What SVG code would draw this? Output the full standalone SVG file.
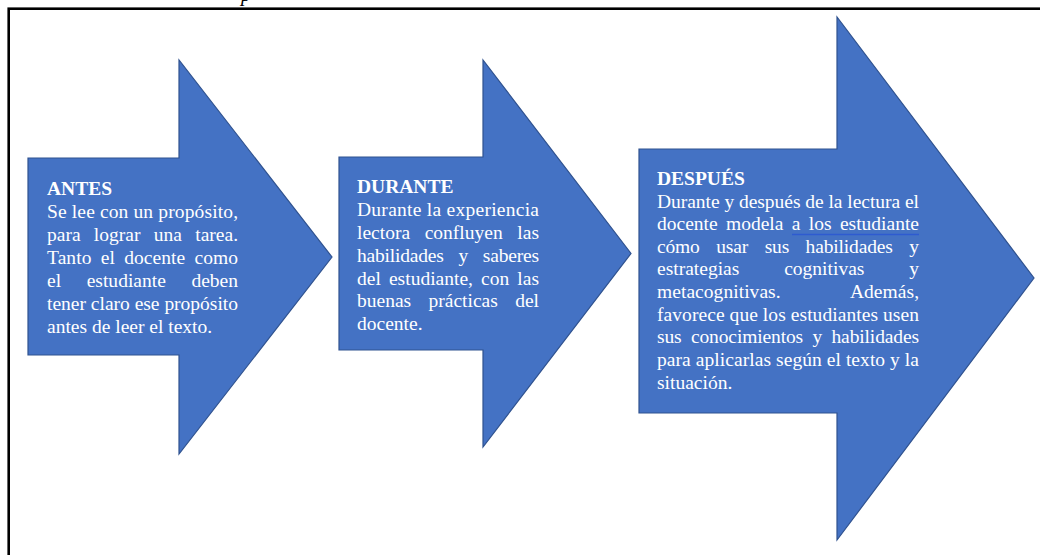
<svg xmlns="http://www.w3.org/2000/svg" width="1040" height="555" viewBox="0 0 1040 555">
<style>
.arrow{fill:#4472C4;stroke:#2F528F;stroke-width:1.2}
.t{font-family:"Liberation Serif","Times New Roman",serif;font-size:19.5px;fill:#FFFFFF}
.h{font-weight:bold}
</style>
<rect width="1040" height="555" fill="#FFFFFF"/>
<text x="241" y="1" style="font-family:'Liberation Serif',serif;font-size:20px;font-style:italic;fill:#000">p</text>
<rect x="8.7" y="8.7" width="1100" height="600" fill="none" stroke="#000" stroke-width="2.6"/>
<g id="connectors"></g>
<g id="antes">
<polygon class="arrow" points="28,158 179,158 179,60 332,257 179,454 179,355 28,355"/>
<text class="t h" x="47" y="195">ANTES</text>
<text class="t" x="47" y="218" textLength="191" lengthAdjust="spacing">Se lee con un propósito,</text>
<text class="t" x="47" y="241" word-spacing="8.4" textLength="191" lengthAdjust="spacing">para lograr una tarea.</text>
<text class="t" x="47" y="264" word-spacing="4.3" textLength="191" lengthAdjust="spacing">Tanto el docente como</text>
<text class="t" x="47" y="287" word-spacing="20.7" textLength="191" lengthAdjust="spacing">el estudiante deben</text>
<text class="t" x="47" y="310" textLength="191" lengthAdjust="spacing">tener claro ese propósito</text>
<text class="t" x="47" y="333">antes de leer el texto.</text>
</g>
<g id="durante">
<polygon class="arrow" points="339,157 483,157 483,60 631,253.5 483,447 483,350 339,350"/>
<text class="t h" x="357" y="193">DURANTE</text>
<text class="t" x="357" y="216" textLength="182" lengthAdjust="spacing">Durante la experiencia</text>
<text class="t" x="357" y="239" word-spacing="9.8" textLength="182" lengthAdjust="spacing">lectora confluyen las</text>
<text class="t" x="357" y="262" word-spacing="10.1" textLength="182" lengthAdjust="spacing">habilidades y saberes</text>
<text class="t" x="357" y="285" word-spacing="3.2" textLength="182" lengthAdjust="spacing">del estudiante, con las</text>
<text class="t" x="357" y="307" word-spacing="12.5" textLength="182" lengthAdjust="spacing">buenas prácticas del</text>
<text class="t" x="357" y="330">docente.</text>
</g>
<g id="despues">
<polygon class="arrow" points="639,149 837,149 837,17 1034,278 837,540 837,413 639,413"/>
<text class="t h" x="657" y="185">DESPUÉS</text>
<text class="t" x="657" y="208" textLength="262" lengthAdjust="spacing">Durante y después de la lectura el</text>
<text class="t" x="657" y="230" word-spacing="3.5" textLength="262" lengthAdjust="spacing">docente modela a los estudiante</text>
<line x1="792" y1="234.5" x2="919" y2="234.5" stroke="#2E5BD0" stroke-width="1.4"/>
<text class="t" x="657" y="253" word-spacing="11.8" textLength="262" lengthAdjust="spacing">cómo usar sus habilidades y</text>
<text class="t" x="657" y="275" word-spacing="40" textLength="262" lengthAdjust="spacing">estrategias cognitivas y</text>
<text class="t" x="657" y="298" word-spacing="65.4" textLength="262" lengthAdjust="spacing">metacognitivas. Además,</text>
<text class="t" x="657" y="321" textLength="262" lengthAdjust="spacing">favorece que los estudiantes usen</text>
<text class="t" x="657" y="343" word-spacing="4.7" textLength="262" lengthAdjust="spacing">sus conocimientos y habilidades</text>
<text class="t" x="657" y="366" textLength="262" lengthAdjust="spacing">para aplicarlas según el texto y la</text>
<text class="t" x="657" y="389">situación.</text>
</g>
</svg>
